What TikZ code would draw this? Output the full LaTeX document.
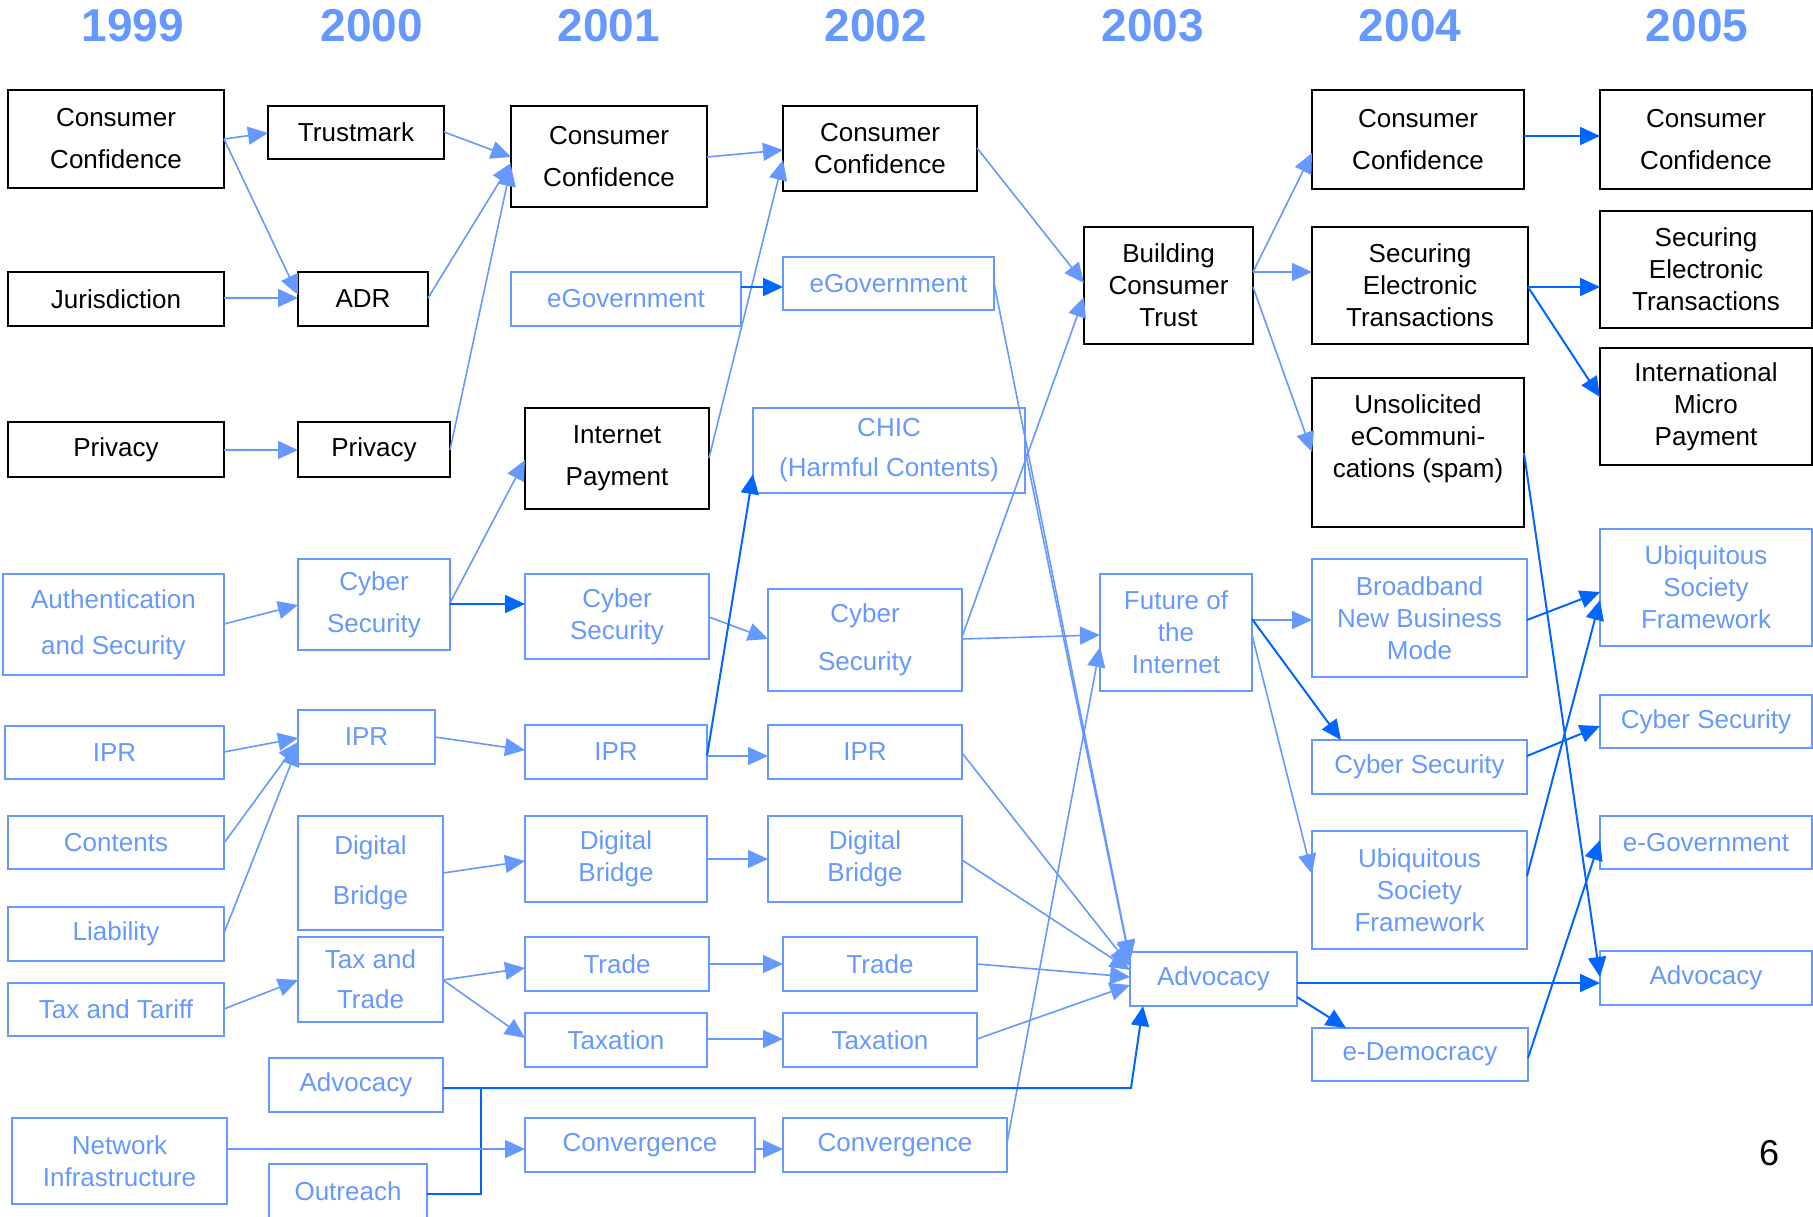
\documentclass[tikz,border=0pt]{standalone}
\usepackage{fontspec}
\setmainfont{Liberation Sans}
\usetikzlibrary{arrows.meta}
\definecolor{lb}{RGB}{102,153,255}
\definecolor{db}{RGB}{0,102,255}
\newcommand{\bx}[7]{\node[#1, minimum width={(#5)-(#3)}, minimum height={(#6)-(#4)}] (#2) at ({((#3)+(#5))/2},{((#4)+(#6))/2}) {#7};}
\tikzset{
 box/.style={draw, rectangle, inner sep=0pt, outer sep=0pt, align=center, font=\fontsize{26}{32}\selectfont},
 kbox/.style={box, draw=black, line width=2.2pt, text=black},
 bbox/.style={box, draw=lb, line width=2pt, text=lb},
 wide/.style={font=\fontsize{26}{42}\selectfont},
 lbl/.style={draw=lb, line width=1.6pt, -{Triangle[length=20pt,width=18pt]}},
 dbl/.style={draw=db, line width=2pt, -{Triangle[length=20pt,width=18pt]}},
 dbline/.style={draw=db, line width=2pt},
 year/.style={text=lb, font=\fontsize{46}{50}\selectfont\bfseries},
}
\begin{document}
\begin{tikzpicture}[x=1pt,y=-1pt]
\fill[white] (0,0) rectangle (1813,1217);
\useasboundingbox (0,0) rectangle (1813,1217);
% years
\node[year] (y99) at (133,26) {1999};
\node[year] (y00) at (372,26) {2000};
\node[year] (y01) at (609,26) {2001};
\node[year] (y02) at (876,26) {2002};
\node[year] (y03) at (1153,26) {2003};
\node[year] (y04) at (1410,26) {2004};
\node[year] (y05) at (1697,26) {2005};
% black boxes
\bx{kbox,wide}{cc99}{8}{90}{224}{188}{Consumer\\Confidence}
\bx{kbox}{tm}{268}{106}{444}{159}{Trustmark}
\bx{kbox}{jur}{8}{272}{224}{326}{Jurisdiction}
\bx{kbox}{adr}{298}{272}{428}{326}{ADR}
\bx{kbox}{pv99}{8}{422}{224}{477}{Privacy}
\bx{kbox}{pv00}{298}{422}{450}{477}{Privacy}
\bx{kbox,wide}{cc01}{511}{106}{707}{207}{Consumer\\Confidence}
\bx{kbox,wide}{ip}{525}{408}{709}{509}{Internet\\Payment}
\bx{kbox}{cc02}{783}{106}{977}{191}{Consumer\\Confidence}
\bx{kbox}{bct}{1084}{227}{1253}{344}{Building\\Consumer\\Trust}
\bx{kbox,wide}{cc04}{1312}{90}{1524}{189}{Consumer\\Confidence}
\bx{kbox}{set04}{1312}{227}{1528}{344}{Securing\\Electronic\\Transactions}
\bx{kbox}{spam}{1312}{378}{1524}{527}{Unsolicited\\eCommuni-\\cations (spam)\\\mbox{}}
\bx{kbox,wide}{cc05}{1600}{90}{1812}{189}{Consumer\\Confidence}
\bx{kbox}{set05}{1600}{211}{1812}{328}{Securing\\Electronic\\Transactions}
\bx{kbox}{imp}{1600}{348}{1812}{465}{International\\Micro\\Payment}
% blue boxes
\bx{bbox,font=\fontsize{26}{46}\selectfont}{auth}{3}{574}{224}{675}{Authentication\\and Security}
\bx{bbox,wide}{cs00}{298}{559}{450}{650}{Cyber\\Security}
\bx{bbox}{ipr99}{5}{726}{224}{779}{IPR}
\bx{bbox}{ipr00}{298}{710}{435}{764}{IPR}
\bx{bbox}{cont}{8}{816}{224}{869}{Contents}
\bx{bbox,font=\fontsize{26}{50}\selectfont}{db00}{298}{816}{443}{930}{Digital\\Bridge}
\bx{bbox}{liab}{8}{907}{224}{961}{Liability}
\bx{bbox}{ttar}{8}{983}{224}{1036}{Tax and Tariff}
\bx{bbox,font=\fontsize{26}{40}\selectfont}{tat}{298}{937}{443}{1022}{Tax and\\Trade}
\bx{bbox}{adv00}{269}{1058}{443}{1112}{Advocacy}
\bx{bbox}{net}{12}{1118}{227}{1204}{Network\\Infrastructure}
\bx{bbox}{out}{269}{1164}{427}{1218}{Outreach}
\bx{bbox}{eg01}{511}{272}{741}{326}{eGovernment}
\bx{bbox}{cs01}{525}{574}{709}{659}{Cyber\\Security}
\bx{bbox}{ipr01}{525}{725}{707}{779}{IPR}
\bx{bbox}{db01}{525}{816}{707}{902}{Digital\\Bridge}
\bx{bbox}{tr01}{525}{937}{709}{991}{Trade}
\bx{bbox}{tx01}{525}{1013}{707}{1067}{Taxation}
\bx{bbox}{cv01}{525}{1118}{755}{1172}{Convergence}
\bx{bbox}{eg02}{783}{257}{994}{310}{eGovernment}
\bx{bbox,font=\fontsize{26}{40}\selectfont}{chic}{753}{408}{1025}{493}{CHIC\\(Harmful Contents)}
\bx{bbox,font=\fontsize{26}{48}\selectfont}{cs02}{768}{589}{962}{691}{Cyber\\Security}
\bx{bbox}{ipr02}{768}{725}{962}{779}{IPR}
\bx{bbox}{db02}{768}{816}{962}{902}{Digital\\Bridge}
\bx{bbox}{tr02}{783}{937}{977}{991}{Trade}
\bx{bbox}{tx02}{783}{1013}{977}{1067}{Taxation}
\bx{bbox}{cv02}{783}{1118}{1007}{1172}{Convergence}
\bx{bbox}{foi}{1100}{574}{1252}{691}{Future of\\the\\Internet}
\bx{bbox}{adv03}{1130}{952}{1297}{1006}{Advocacy}
\bx{bbox}{bb}{1312}{559}{1527}{677}{Broadband\\New Business\\Mode}
\bx{bbox}{cs04}{1312}{740}{1527}{794}{Cyber Security}
\bx{bbox}{ubi04}{1312}{831}{1527}{949}{Ubiquitous\\Society\\Framework}
\bx{bbox}{edem}{1312}{1028}{1528}{1081}{e-Democracy}
\bx{bbox}{ubi05}{1600}{529}{1812}{646}{Ubiquitous\\Society\\Framework}
\bx{bbox}{cs05}{1600}{695}{1812}{748}{Cyber Security}
\bx{bbox}{eg05}{1600}{816}{1812}{869}{e-Government}
\bx{bbox}{adv05}{1600}{951}{1812}{1005}{Advocacy}
\node[font=\fontsize{36}{40}\selectfont] (pg) at (1769,1153) {6};
\coordinate (bend) at (1131,1088);
\coordinate (join) at (481,1088);
\coordinate (outc) at (481,1194);
% connectors
\draw[lbl] (cc99.east|-0,139) -- (tm.west|-0,133);
\draw[lbl] (cc99.east|-0,139) -- (adr.west|-0,295);
\draw[lbl] (jur.east|-0,298) -- (adr.west|-0,298);
\draw[lbl] (pv99.east|-0,450) -- (pv00.west|-0,450);
\draw[lbl] (tm.east|-0,132) -- (cc01.west|-0,157);
\draw[lbl] (adr.east|-0,298) -- (cc01.west|-0,163);
\draw[lbl] (pv00.east|-0,450) -- (cc01.west|-0,166);
\draw[lbl] (cc01.east|-0,157) -- (cc02.west|-0,150);
\draw[lbl] (ip.east|-0,458) -- (cc02.west|-0,160);
\draw[dbl] (eg01.east|-0,287) -- (eg02.west|-0,287);
\draw[lbl] (cc02.east|-0,148) -- (bct.west|-0,283);
\draw[lbl] (cs02.east|-0,637) -- (bct.west|-0,297);
\draw[lbl] (bct.east|-0,272) -- (cc04.west|-0,153);
\draw[lbl] (bct.east|-0,272) -- (set04.west|-0,272);
\draw[lbl] (bct.east|-0,287) -- (spam.west|-0,452);
\draw[dbl] (cc04.east|-0,136) -- (cc05.west|-0,136);
\draw[dbl] (set04.east|-0,287) -- (set05.west|-0,287);
\draw[dbl] (set04.east|-0,287) -- (imp.west|-0,397);
\draw[dbl] (spam.east|-0,453) -- (adv05.west|-0,977);
\draw[lbl] (auth.east|-0,624) -- (cs00.west|-0,605);
\draw[lbl] (cs00.east|-0,603) -- (ip.west|-0,460);
\draw[dbl] (cs00.east|-0,604) -- (cs01.west|-0,604);
\draw[lbl] (ipr99.east|-0,752) -- (ipr00.west|-0,738);
\draw[lbl] (cont.east|-0,843) -- (ipr00.west|-0,742);
\draw[lbl] (liab.east|-0,933) -- (ipr00.west|-0,746);
\draw[lbl] (ipr00.east|-0,737) -- (ipr01.west|-0,750);
\draw[lbl] (db00.east|-0,873) -- (db01.west|-0,861);
\draw[lbl] (cs01.east|-0,617) -- (cs02.west|-0,639);
\draw[dbl] (ipr01.east|-0,756) -- (chic.west|-0,474);
\draw[lbl] (ipr01.east|-0,756) -- (ipr02.west|-0,756);
\draw[lbl] (db01.east|-0,859) -- (db02.west|-0,859);
\draw[lbl] (tr01.east|-0,964) -- (tr02.west|-0,964);
\draw[lbl] (tx01.east|-0,1039) -- (tx02.west|-0,1039);
\draw[lbl] (cs02.east|-0,639) -- (foi.west|-0,635);
\draw[lbl] (cv02.east|-0,1143) -- (foi.west|-0,647);
\draw[lbl] (eg02.east|-0,283) -- (adv03.west|-0,960);
\draw[lbl] (chic.east|-0,450) -- (adv03.west|-0,962);
\draw[lbl] (ipr02.east|-0,753) -- (adv03.west|-0,966);
\draw[lbl] (db02.east|-0,860) -- (adv03.west|-0,970);
\draw[lbl] (tr02.east|-0,964) -- (adv03.west|-0,977);
\draw[lbl] (tx02.east|-0,1039) -- (adv03.west|-0,985);
\draw[dbl] (adv00.east|-0,1088) -- (bend) -- (adv03.south-|1143,0);
\draw[dbline] (out.east|-0,1194) -- (outc) -- (join);
\draw[lbl] (net.east|-0,1149) -- (cv01.west|-0,1149);
\draw[lbl] (cv01.east|-0,1149) -- (cv02.west|-0,1149);
\draw[lbl] (ttar.east|-0,1009) -- (tat.west|-0,980);
\draw[lbl] (tat.east|-0,980) -- (tr01.west|-0,968);
\draw[lbl] (tat.east|-0,980) -- (tx01.west|-0,1038);
\draw[lbl] (foi.east|-0,620) -- (bb.west|-0,620);
\draw[dbl] (foi.east|-0,619) -- (cs04.north-|1341,0);
\draw[lbl] (foi.east|-0,635) -- (ubi04.west|-0,874);
\draw[dbl] (bb.east|-0,620) -- (ubi05.west|-0,592);
\draw[dbl] (cs04.east|-0,756) -- (cs05.west|-0,726);
\draw[dbl] (ubi04.east|-0,876) -- (ubi05.west|-0,600);
\draw[dbl] (adv03.east|-0,983) -- (adv05.west|-0,983);
\draw[dbl] (adv03.east|-0,997) -- (edem.north-|1346,0);
\draw[dbl] (edem.east|-0,1058) -- (eg05.west|-0,840);
\end{tikzpicture}
\end{document}
